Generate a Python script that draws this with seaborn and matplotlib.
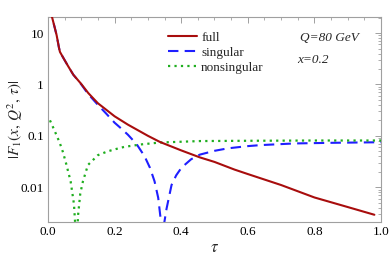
import numpy as np
import pandas as pd
import seaborn as sns
import matplotlib
matplotlib.use("Agg")
import matplotlib.pyplot as plt
from matplotlib.ticker import FixedLocator, LogLocator, NullFormatter, FixedFormatter

# ---- data ----
tau_full = [0.008, 0.011, 0.02, 0.026, 0.033, 0.036, 0.046, 0.06, 0.076, 0.1, 0.121,
            0.15, 0.2, 0.24, 0.3, 0.336, 0.4, 0.456, 0.5, 0.56, 0.6, 0.7, 0.8, 0.9, 0.98]
f_full = [32, 22, 13, 9.1, 5.2, 4.3, 3.3, 2.3, 1.55, 1.02, 0.68,
          0.43, 0.24, 0.165, 0.1, 0.076, 0.052, 0.038, 0.031, 0.022, 0.018, 0.011, 0.0063, 0.0041, 0.0029]

tau_sing = [0.008, 0.011, 0.02, 0.026, 0.033, 0.036, 0.046, 0.06, 0.076, 0.1, 0.12, 0.15,
            0.175, 0.2, 0.216, 0.24, 0.266, 0.29, 0.306, 0.32, 0.331, 0.338, 0.343, 0.349,
            0.356, 0.371, 0.385, 0.401, 0.43, 0.456, 0.5, 0.54, 0.6, 0.64, 0.74, 0.85, 1.0]
f_sing = [32, 22, 13, 9.1, 5.2, 4.3, 3.3, 2.3, 1.55, 1.0, 0.66, 0.40,
          0.27, 0.18, 0.146, 0.105, 0.069, 0.04, 0.024, 0.013, 0.0062, 0.0025, 0.0003, 0.0020,
          0.0038, 0.011, 0.017, 0.024, 0.035, 0.043, 0.051, 0.057, 0.063, 0.066, 0.071, 0.073, 0.075]

tau_ns = [0.006, 0.02, 0.035, 0.045, 0.055, 0.068, 0.078, 0.082, 0.0855, 0.09, 0.097,
          0.105, 0.12, 0.15, 0.18, 0.216, 0.23, 0.28, 0.336, 0.456, 0.6, 0.8, 1.0]
f_ns = [0.2, 0.125, 0.074, 0.048, 0.028, 0.013, 0.0047, 0.0018, 0.0002, 0.0027, 0.0075,
        0.013, 0.027, 0.042, 0.050, 0.058, 0.061, 0.068, 0.074, 0.079, 0.080, 0.081, 0.081]

x_ticks = [0.0, 0.2, 0.4, 0.6, 0.8, 1.0]
x_ticklabels = ["0.0", "0.2", "0.4", "0.6", "0.8", "1.0"]
y_ticks = [0.01, 0.1, 1, 10]
y_ticklabels = ["0.01", "0.1", "1", "10"]
labels = ["full", "singular", "nonsingular"]

sns.set_theme(style="white")
plt.rcParams['font.family'] = ['Liberation Serif', 'DejaVu Serif']
plt.rcParams['mathtext.fontset'] = 'stix'

fig = plt.figure(figsize=(3.9, 2.59), dpi=100)
ax = fig.add_axes([0.123, 0.143, 0.854, 0.791])

red = "#a80d0d"
blue = "#1f1fff"
green = "#1fae1f"

sns.lineplot(x=tau_sing, y=f_sing, ax=ax, color=blue, lw=1.5, label=labels[1], zorder=2)
ax.lines[-1].set_linestyle((0, (5, 3)))
sns.lineplot(x=tau_ns, y=f_ns, ax=ax, color=green, lw=1.6, label=labels[2], zorder=3)
ax.lines[-1].set_linestyle((0, (1, 1.9)))
sns.lineplot(x=tau_full, y=f_full, ax=ax, color=red, lw=1.5, label=labels[0], zorder=4)

ax.set_yscale("log")
ax.set_xlim(0, 1.0)
ax.set_ylim(0.0021, 20.5)

ax.xaxis.set_major_locator(FixedLocator(x_ticks))
ax.xaxis.set_major_formatter(FixedFormatter(x_ticklabels))
ax.xaxis.set_minor_locator(FixedLocator(np.arange(0, 1.0001, 0.05)))
ax.yaxis.set_major_locator(FixedLocator(y_ticks))
ax.yaxis.set_major_formatter(FixedFormatter(y_ticklabels))
ax.yaxis.set_minor_locator(LogLocator(base=10, subs=np.arange(2, 10)))
ax.yaxis.set_minor_formatter(NullFormatter())

for s in ax.spines.values():
    s.set_color("#a0a0a0")
    s.set_linewidth(0.8)
ax.tick_params(which="both", direction="in", top=True, right=True, color="#a0a0a0",
               labelsize=9.5, pad=3, labelcolor="black")
ax.tick_params(which="major", length=4, width=0.7)
ax.tick_params(which="minor", length=2, width=0.6)

ax.set_xlabel(r"$\tau$", fontsize=12, labelpad=1)
ax.set_ylabel(r"$|F_1(x,\,Q^2,\,\tau)|$", fontsize=11, va="center")
ax.yaxis.set_label_coords(-0.099, 0.5)

h, l = ax.get_legend_handles_labels()
order = [l.index(n) for n in labels]
leg = ax.legend([h[i] for i in order], [l[i] for i in order], frameon=False,
                loc="upper left", bbox_to_anchor=(0.345, 0.955), fontsize=9.5,
                handlelength=2.2, handletextpad=0.3, labelspacing=0.22, borderaxespad=0)

ax.text(0.757, 0.9, "Q=80 GeV", transform=ax.transAxes, fontsize=9.5, style="italic",
        ha="left", va="center")
ax.text(0.748, 0.79, "x=0.2", transform=ax.transAxes, fontsize=9.5, style="italic",
        ha="left", va="center")

fig.savefig("out.png", dpi=100)
